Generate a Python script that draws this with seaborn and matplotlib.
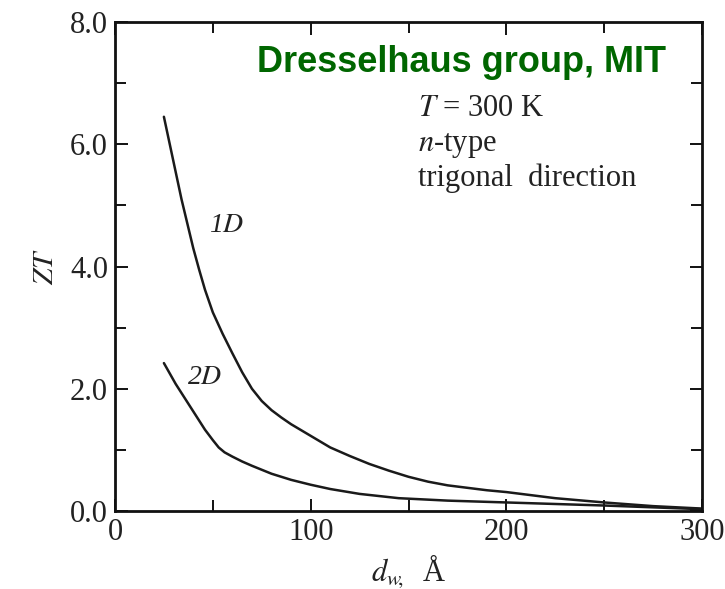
import matplotlib
matplotlib.use("Agg")
import matplotlib.pyplot as plt
from matplotlib.ticker import MultipleLocator
import pandas as pd
import seaborn as sns

# Well width (Angstrom) and figure of merit ZT for Bi quantum wires (1D) and wells (2D)
width_1d = [25, 28, 31, 34, 37, 40, 43, 46, 50, 55, 60, 65, 70, 75, 80, 85, 90, 100,
            110, 120, 130, 140, 150, 160, 170, 180, 190, 200, 225, 250, 275, 300]
zt_1d = [6.45, 6.0, 5.55, 5.1, 4.7, 4.3, 3.95, 3.62, 3.25, 2.9, 2.58, 2.27, 2.0, 1.8, 1.65, 1.53, 1.42, 1.23,
         1.04, 0.90, 0.77, 0.66, 0.56, 0.48, 0.42, 0.38, 0.34, 0.31, 0.21, 0.14, 0.08, 0.04]

width_2d = [25, 28, 31, 34, 37, 40, 43, 46, 50, 53, 56, 60, 65, 70, 80, 90, 100,
            110, 125, 145, 170, 190, 220, 250, 275, 300]
zt_2d = [2.42, 2.25, 2.08, 1.93, 1.78, 1.63, 1.48, 1.33, 1.16, 1.04, 0.96, 0.89, 0.81, 0.74, 0.61, 0.51, 0.43,
         0.36, 0.28, 0.21, 0.17, 0.15, 0.12, 0.09, 0.06, 0.03]

curve_names = ["1D", "2D"]

x_ticks = [0, 100, 200, 300]
y_ticks = [0.0, 2.0, 4.0, 6.0, 8.0]

df = pd.concat([
    pd.DataFrame({"d": width_1d, "ZT": zt_1d, "curve": curve_names[0]}),
    pd.DataFrame({"d": width_2d, "ZT": zt_2d, "curve": curve_names[1]}),
])

sns.set_theme(style="ticks")
plt.rcParams["font.family"] = ["Liberation Serif", "DejaVu Serif"]
plt.rcParams["mathtext.fontset"] = "stix"

fig = plt.figure(figsize=(7.25, 5.89), dpi=100)
ax = fig.add_axes([0.1586, 0.1324, 0.8097, 0.8302])

sns.lineplot(data=df, x="d", y="ZT", hue="curve", units="curve", estimator=None,
             palette=["#1a1a1a", "#1a1a1a"], linewidth=1.8, legend=False, ax=ax)
for line in ax.get_lines():
    line.set_solid_joinstyle("round")

ax.set_xlim(0, 300)
ax.set_ylim(0, 8)
ax.set_xticks(x_ticks)
ax.set_xticklabels([str(v) for v in x_ticks])
ax.set_yticks(y_ticks)
ax.set_yticklabels([f"{v:.1f}" for v in y_ticks])
ax.xaxis.set_minor_locator(MultipleLocator(50))
ax.yaxis.set_minor_locator(MultipleLocator(1))

for s in ax.spines.values():
    s.set_linewidth(2.0)
    s.set_color("#111111")
    s.set_visible(True)

ax.tick_params(which="both", direction="in", top=True, right=True,
               width=1.4, color="#111111", labelsize=22, labelcolor="#222222")
ax.tick_params(which="major", length=9, pad=5)
ax.tick_params(which="minor", length=8)

ax.set_xlabel(r"$d_{w\!,}$  Å", fontsize=22, color="#222222", labelpad=4)
ax.set_ylabel(r"$ZT$", fontsize=21, color="#222222", labelpad=8)

# Curve labels
ax.text(57, 4.67, "1$D$", fontsize=20, ha="center", va="center", color="#222222",
        fontstyle="italic")
ax.text(46, 2.18, "2$D$", fontsize=20, ha="center", va="center", color="#222222",
        fontstyle="italic")

# Conditions
ax.text(155, 6.58, r"$T$ = 300 K", fontsize=22, ha="left", va="center", color="#222222")
ax.text(155, 5.98, r"$n$-type", fontsize=22, ha="left", va="center", color="#222222")
ax.text(155, 5.44, "trigonal  direction", fontsize=22, ha="left", va="center", color="#222222")

ax.text(0.591, 0.918, "Dresselhaus group, MIT", transform=ax.transAxes,
        fontsize=26, fontweight="bold", color="#006600", ha="center", va="center",
        family=["Liberation Sans", "DejaVu Sans"])

fig.savefig("out.png", dpi=100, facecolor="white")
